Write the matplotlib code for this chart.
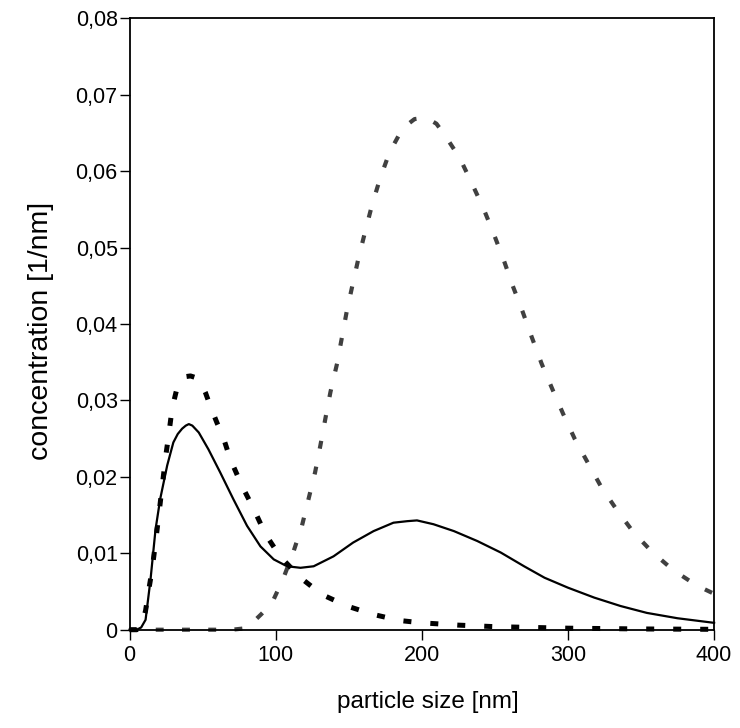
import matplotlib
matplotlib.use("Agg")
import matplotlib.pyplot as plt
from matplotlib.ticker import FixedLocator

# small mode (black dashed)
fine_x = [0, 5, 8, 11, 13, 15.5, 17.8, 20, 22.3, 25, 26.9, 29.2, 32, 35, 38, 41.7, 45,
          48.6, 52, 55.4, 60, 63.4, 69, 77, 85, 93, 103, 117, 131.7, 148.8, 166.8, 185,
          200, 225, 250, 300, 350, 400]
fine_y = [0, 0, 0.0003, 0.0025, 0.005, 0.0079, 0.0114, 0.0149, 0.0187, 0.0230, 0.0256,
          0.0290, 0.0312, 0.0325, 0.0331, 0.0332, 0.0330, 0.0324, 0.0310, 0.0292, 0.0270,
          0.0256, 0.0223, 0.0188, 0.0158, 0.0125, 0.0096, 0.0068, 0.0046, 0.0031, 0.0020,
          0.0012, 0.0009, 0.0006, 0.0004, 0.0002, 0.0001, 0.00005]

# large mode (grey dashed)
coarse_x = [0, 40, 70, 80, 84, 90, 97.5, 105, 112, 118, 122.5, 127, 130.6, 134, 137.5,
            142, 145.4, 148.6, 152.7, 156.8, 161.4, 166, 171.4, 177.8, 186.9, 195, 202.9,
            210, 215.4, 226, 234, 242, 249, 256, 262, 269, 275, 282, 289.5, 296.8, 304.8,
            314, 323, 333.7, 345, 358, 372, 388, 400]
coarse_y = [0, 0, 0, 0.0002, 0.0009, 0.002, 0.0035, 0.0066, 0.0101, 0.0136, 0.0171,
            0.0206, 0.0241, 0.0276, 0.0311, 0.0348, 0.0383, 0.0416, 0.0452, 0.0487, 0.0522,
            0.0556, 0.0590, 0.0624, 0.0656, 0.0668, 0.0670, 0.0662, 0.0648, 0.0617, 0.0585,
            0.0552, 0.0519, 0.0484, 0.0451, 0.0416, 0.0384, 0.0348, 0.0314, 0.0282, 0.0249,
            0.0217, 0.0186, 0.0156, 0.0127, 0.0101, 0.0078, 0.0058, 0.0047]

# measured mixture (solid)
mix_x = [0, 5, 8, 11, 14.4, 17.8, 21, 25.8, 30, 33, 36, 38.5, 40.6, 43, 47.4, 54, 62, 71,
         80.4, 89.6, 98.7, 107.8, 117, 126, 139.6, 153, 167, 180.6, 190, 196.7, 208, 222,
         238, 254, 270, 284, 300, 318, 336, 354, 375, 400]
mix_y = [0, 0, 0.0003, 0.0013, 0.0066, 0.0131, 0.0171, 0.0215, 0.0245, 0.0256, 0.0263,
         0.0267, 0.0269, 0.0267, 0.0258, 0.0236, 0.0206, 0.0171, 0.0136, 0.0109, 0.0092,
         0.0083, 0.0081, 0.0083, 0.0096, 0.0114, 0.0129, 0.0140, 0.0142, 0.0143, 0.0138,
         0.0129, 0.0116, 0.0101, 0.0083, 0.0068, 0.0055, 0.0042, 0.0031, 0.0022, 0.0015,
         0.0009]

x_ticks = [0, 100, 200, 300, 400]
y_ticks = [0, 0.01, 0.02, 0.03, 0.04, 0.05, 0.06, 0.07, 0.08]
y_tick_labels = ["0", "0,01", "0,02", "0,03", "0,04", "0,05", "0,06", "0,07", "0,08"]

plt.rcParams["font.family"] = ["Liberation Sans", "DejaVu Sans"]

fig = plt.figure(figsize=(7.4, 7.28), dpi=100)
ax = fig.add_axes([0.175, 0.135, 0.79, 0.84])

ax.plot(coarse_x, coarse_y, color="#404040", linewidth=3.0, dashes=(1.9, 4.4),
        dash_capstyle="butt", clip_on=False, zorder=2)
ax.plot(fine_x, fine_y, color="black", linewidth=3.6, dashes=(1.6, 3.8),
        dash_capstyle="butt", clip_on=False, zorder=3)
ax.plot(mix_x, mix_y, color="black", linewidth=1.6, clip_on=False, zorder=4)

ax.set_xlim(0, 400)
ax.set_ylim(0, 0.08)
ax.xaxis.set_major_locator(FixedLocator(x_ticks))
ax.set_xticklabels([str(t) for t in x_ticks])
ax.yaxis.set_major_locator(FixedLocator(y_ticks))
ax.set_yticklabels(y_tick_labels)
ax.tick_params(direction="out", length=7, width=1.0, labelsize=15.5, colors="black")
ax.tick_params(axis="y", pad=1.5)
ax.tick_params(axis="x", pad=4)

for s in ax.spines.values():
    s.set_linewidth(1.3)
    s.set_color("black")

ax.set_xlabel("particle size [nm]", fontsize=17.5)
ax.set_ylabel("concentration [1/nm]", fontsize=20.5)
ax.xaxis.set_label_coords(0.51, -0.1)
ax.yaxis.set_label_coords(-0.13, 0.488)

fig.savefig("out.png", dpi=100)
